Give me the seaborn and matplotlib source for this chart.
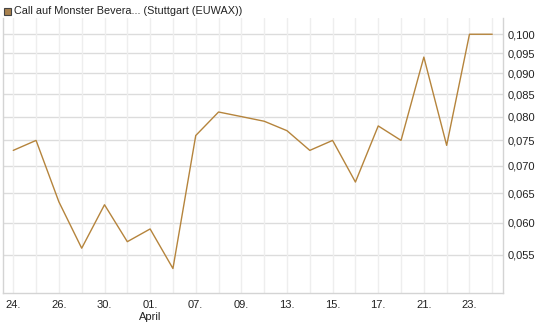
import pandas as pd
import matplotlib
matplotlib.use("Agg")
import matplotlib.pyplot as plt
import matplotlib.ticker as mticker
from matplotlib.patches import Rectangle
import seaborn as sns

# trading days, 24 March - 24 April
days = ["24.", "25.", "26.", "27.", "30.", "31.", "01.", "02.", "07.", "08.", "09.",
        "10.", "13.", "14.", "15.", "16.", "17.", "20.", "21.", "22.", "23.", "24."]
prices = [0.073, 0.075, 0.0635, 0.056, 0.063, 0.057, 0.059, 0.053, 0.076, 0.081, 0.080,
          0.079, 0.077, 0.073, 0.075, 0.067, 0.078, 0.075, 0.094, 0.074, 0.100, 0.100]
y_ticks = [0.055, 0.060, 0.065, 0.070, 0.075, 0.080, 0.085, 0.090, 0.095, 0.100]
title = "Call auf Monster Bevera... (Stuttgart (EUWAX))"

df = pd.DataFrame({"idx": range(len(days)), "price": prices})

sns.set_style("white")
plt.rcParams["font.family"] = ["Liberation Sans", "DejaVu Sans"]

W, H = 545, 327
fig = plt.figure(figsize=(W / 100, H / 100), dpi=100)
ax = fig.add_axes([3 / W, 1 - 293 / H, 500 / W, 275 / H])

line_col = "#b5843c"
sns.lineplot(data=df, x="idx", y="price", ax=ax, color=line_col, linewidth=1.0)

ax.set_yscale("log")
ax.set_ylim(0.0496, 0.1045)
ax.set_xlim(-0.45, len(days) - 1 + 0.47)

# grid
for v in y_ticks:
    ax.axhline(v, color="#dcdcdc", linewidth=1, zorder=0)
for i in range(len(days)):
    ax.axvline(i, color="#eeeeee", linewidth=1, zorder=0)

ax.yaxis.set_major_locator(mticker.FixedLocator(y_ticks))
ax.yaxis.set_minor_locator(mticker.NullLocator())
ax.yaxis.set_major_formatter(mticker.FuncFormatter(lambda v, p: f"{v:.3f}".replace(".", ",")))
ax.yaxis.tick_right()
ax.tick_params(axis="y", length=0, pad=3, labelsize=8, labelcolor="#222222")

ax.set_xticks(range(len(days)))
labels = [d if i % 2 == 0 else "" for i, d in enumerate(days)]
labels[6] = "01.\nApril"
ax.set_xticklabels(labels, fontsize=8, color="#222222", va="top", linespacing=1.3)
ax.tick_params(axis="x", length=3, color="#dddddd", pad=2)

ax.set_xlabel("")
ax.set_ylabel("")
for side in ["left", "bottom", "right"]:
    ax.spines[side].set_color("#d4d4d4")
    ax.spines[side].set_linewidth(1)
ax.spines["top"].set_visible(False)

# legend-like title
fig.patches.append(Rectangle((4 / W, 1 - 15 / H), 7 / W, 7 / H, transform=fig.transFigure,
                             facecolor="#a9824f", edgecolor="#444444", linewidth=0.8))
fig.text(14 / W, 1 - 10.5 / H, title, fontsize=7.8, color="#222222", va="center", ha="left")

fig.savefig("out.png", dpi=100)
